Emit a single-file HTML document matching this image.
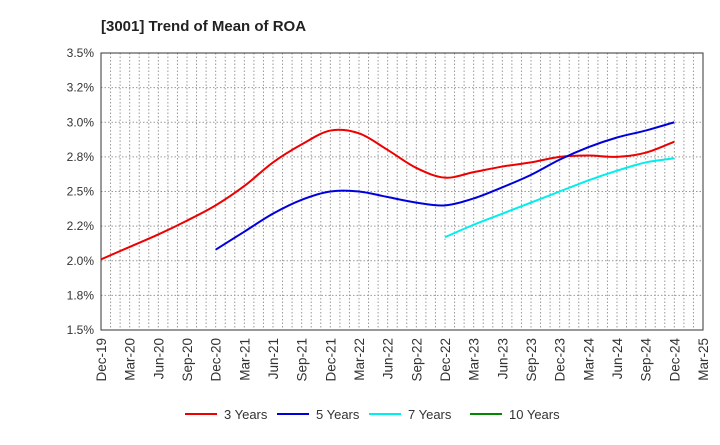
<!DOCTYPE html>
<html><head><meta charset="utf-8"><style>
body{margin:0;background:#fff;}
svg{font-family:"Liberation Sans",Arial,sans-serif;}
</style></head><body>
<svg id="chart" width="720" height="440">
<text x="101" y="31" font-size="15" font-weight="bold" fill="#222">[3001]  Trend of Mean of ROA</text>
<g id="grid"></g><g id="axes"></g><g id="series"></g><g id="legend"></g>
</svg>
<script>
const xLabels=["Dec-19","Mar-20","Jun-20","Sep-20","Dec-20","Mar-21","Jun-21","Sep-21","Dec-21","Mar-22","Jun-22","Sep-22","Dec-22","Mar-23","Jun-23","Sep-23","Dec-23","Mar-24","Jun-24","Sep-24","Dec-24","Mar-25"];
const yTicks=[1.5,1.75,2.0,2.25,2.5,2.75,3.0,3.25,3.5];
const yTickLabels=["1.5%","1.8%","2.0%","2.2%","2.5%","2.8%","3.0%","3.2%","3.5%"];
const s3=[2.01,2.10,2.19,2.29,2.40,2.54,2.71,2.84,2.94,2.92,2.80,2.67,2.60,2.64,2.68,2.71,2.75,2.76,2.75,2.78,2.86];
const s5=[null,null,null,null,2.08,2.21,2.34,2.44,2.50,2.50,2.46,2.42,2.40,2.45,2.53,2.62,2.73,2.82,2.89,2.94,3.00];
const s7=[null,null,null,null,null,null,null,null,null,null,null,null,2.17,2.26,2.34,2.42,2.50,2.58,2.65,2.71,2.74];
const s10=[];
const seriesNames=["3 Years","5 Years","7 Years","10 Years"];
const colors=["#ee0000","#0000dd","#00eeee","#008800"];
const L=101,R=703,T=53,B=330,NM=63;
const xq=i=>L+(R-L)*(i*3)/NM;
const xm=m=>L+(R-L)*m/NM;
const y=v=>B-(v-1.5)/2*(B-T);
const NS="http://www.w3.org/2000/svg";
function mk(t,a,p){const e=document.createElementNS(NS,t);for(const k in a)e.setAttribute(k,a[k]);p.appendChild(e);return e;}
const g=document.getElementById('grid');
for(let m=1;m<NM;m++){const l=mk('line',{x1:xm(m),x2:xm(m),y1:T,y2:B,stroke:'#999','stroke-dasharray':'1.5,2','stroke-width':1},g);

}
yTicks.forEach((v,i)=>{if(i>0&&i<yTicks.length-1){const l=mk('line',{x1:L,x2:R,y1:y(v),y2:y(v),stroke:'#999','stroke-dasharray':'1.5,2'},g);

}});
const a=document.getElementById('axes');
const fr=mk('rect',{x:L,y:T,width:R-L,height:B-T,fill:'none',stroke:'#333','stroke-width':1},a);


yTicks.forEach((v,i)=>{const t=mk('text',{x:L-7,y:y(v)+4,'font-size':12,'text-anchor':'end',fill:'#333'},a);t.textContent=yTickLabels[i];

});
xLabels.forEach((s,i)=>{const x=xq(i);const t=mk('text',{x:x+5,y:B+8,'font-size':13.5,'text-anchor':'end',fill:'#333',transform:`rotate(-90 ${x+5} ${B+8})`},a);t.textContent=s;

});
function pathD(pts){let d=`M${pts[0][0]},${pts[0][1]}`;for(let i=0;i<pts.length-1;i++){const p0=pts[i-1]||pts[i],p1=pts[i],p2=pts[i+1],p3=pts[i+2]||p2;
d+=` C${p1[0]+(p2[0]-p0[0])/6},${p1[1]+(p2[1]-p0[1])/6} ${p2[0]-(p3[0]-p1[0])/6},${p2[1]-(p3[1]-p1[1])/6} ${p2[0]},${p2[1]}`;}return d;}
const sg=document.getElementById('series');
[s3,s5,s7,s10].forEach((s,k)=>{const pts=[];s.forEach((v,i)=>{if(v!=null)pts.push([xq(i),y(v)]);});if(pts.length<2)return;
const p=mk('path',{d:pathD(pts),fill:'none',stroke:colors[k],'stroke-width':2},sg);

});
const lg=document.getElementById('legend');
const lx=[185,277,369,470];
seriesNames.forEach((n,k)=>{const gi=mk('g',{},lg);


mk('line',{x1:lx[k],x2:lx[k]+32,y1:414,y2:414,stroke:colors[k],'stroke-width':2},gi);
const t=mk('text',{x:lx[k]+39,y:419,'font-size':13,fill:'#333'},gi);t.textContent=n;});
</script>
</body></html>
